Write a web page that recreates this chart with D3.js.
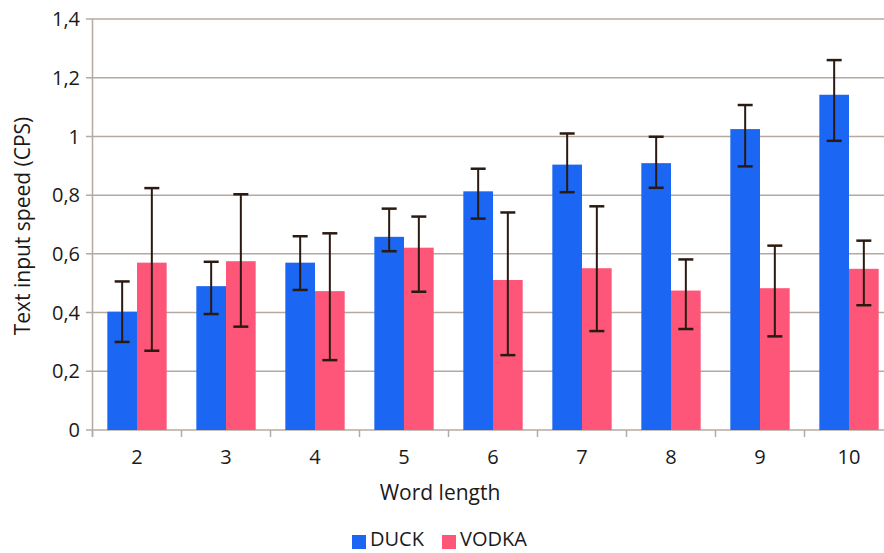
<!DOCTYPE html>
<html><head><meta charset="utf-8">
<script src="https://cdn.jsdelivr.net/npm/d3@7"></script>
<style>body{margin:0;background:#fff}svg{display:block}text{font-family:"Open Sans",sans-serif;fill:#1a1a1a}</style>
</head><body>
<script>
const categories = ["2","3","4","5","6","7","8","9","10"];
const seriesNames = ["DUCK","VODKA"];
const duck      = [0.403,0.490,0.570,0.658,0.813,0.904,0.909,1.025,1.142];
const duckLow   = [0.300,0.395,0.477,0.609,0.720,0.810,0.825,0.898,0.985];
const duckHigh  = [0.506,0.573,0.660,0.754,0.890,1.010,0.999,1.107,1.260];
const vodka     = [0.570,0.575,0.473,0.621,0.511,0.551,0.475,0.483,0.549];
const vodkaLow  = [0.270,0.352,0.238,0.471,0.255,0.337,0.344,0.319,0.425];
const vodkaHigh = [0.824,0.803,0.670,0.727,0.741,0.762,0.581,0.628,0.645];
const yTicks = [0,0.2,0.4,0.6,0.8,1,1.2,1.4];
const colors = ["#1b66f2","#fd5679"];

const W=884,H=553;
const svg=d3.select("body").append("svg").attr("width",W).attr("height",H);
const x=d3.scaleBand().domain(categories).range([92.5,893.5]).padding(0);
const inner=d3.scaleBand().domain(seriesNames).range([0,x.bandwidth()]).paddingOuter(0.5).paddingInner(0);
const y=d3.scaleLinear().domain([0,1.4]).range([430,19]);
const fmt=d=>String(d).replace(".",",");
const gridColor="#b5aaa2";

// grid
svg.append("g").selectAll("line").data(yTicks).join("line")
  .attr("x1",86).attr("x2",W).attr("y1",d=>y(d)).attr("y2",d=>y(d))
  .attr("stroke",gridColor).attr("stroke-width",1.5);
// y axis line
svg.append("line").attr("x1",92.5).attr("x2",92.5).attr("y1",y(1.4)).attr("y2",y(0)+7)
  .attr("stroke",gridColor).attr("stroke-width",1.5);
// x ticks at band boundaries
const bounds=categories.map(c=>x(c)).concat([x(categories[categories.length-1])+x.bandwidth()]);
svg.append("g").selectAll("line").data(bounds).join("line")
  .attr("x1",d=>d).attr("x2",d=>d).attr("y1",y(0)).attr("y2",y(0)+7)
  .attr("stroke",gridColor).attr("stroke-width",1.5);
// y tick labels
svg.append("g").selectAll("text").data(yTicks).join("text")
  .attr("x",80).attr("y",d=>y(d)).attr("dy","0.36em").attr("text-anchor","end")
  .attr("font-size",20).text(fmt);
// x tick labels
svg.append("g").selectAll("text").data(categories).join("text")
  .attr("x",d=>x(d)+x.bandwidth()/2).attr("y",464).attr("text-anchor","middle")
  .attr("font-size",20).text(d=>d);

// bars
const series=[
  {name:"DUCK",vals:duck,lo:duckLow,hi:duckHigh,color:colors[0]},
  {name:"VODKA",vals:vodka,lo:vodkaLow,hi:vodkaHigh,color:colors[1]}
];
const bw=inner.bandwidth();
series.forEach(s=>{
  const g=svg.append("g");
  g.selectAll("rect").data(categories).join("rect")
    .attr("x",(c)=>x(c)+inner(s.name)).attr("width",bw)
    .attr("y",(c,i)=>y(s.vals[i])).attr("height",(c,i)=>y(0)-y(s.vals[i]))
    .attr("fill",s.color);
});
series.forEach(s=>{
  const g=svg.append("g").attr("stroke","#2a1a12").attr("stroke-width",2);
  categories.forEach((c,i)=>{
    const cx=x(c)+inner(s.name)+bw/2;
    g.append("line").attr("x1",cx).attr("x2",cx).attr("y1",y(s.hi[i])).attr("y2",y(s.lo[i]));
    g.append("line").attr("x1",cx-7.5).attr("x2",cx+7.5).attr("y1",y(s.hi[i])).attr("y2",y(s.hi[i])).attr("stroke-width",2.5);
    g.append("line").attr("x1",cx-7.5).attr("x2",cx+7.5).attr("y1",y(s.lo[i])).attr("y2",y(s.lo[i])).attr("stroke-width",2.5);
  });
});

// axis titles
svg.append("text").attr("x",440).attr("y",500).attr("text-anchor","middle").attr("font-size",21).text("Word length");
svg.append("text").attr("transform","translate(30,226) rotate(-90)").attr("text-anchor","middle").attr("font-size",21).text("Text input speed (CPS)");

// legend
const leg=svg.append("g");
const legX=[352,442];
series.forEach((s,i)=>{
  leg.append("rect").attr("x",legX[i]).attr("y",535).attr("width",14).attr("height",14).attr("fill",s.color);
  leg.append("text").attr("x",legX[i]+18).attr("y",546).attr("font-size",20).text(s.name);
});
</script>
</body></html>
